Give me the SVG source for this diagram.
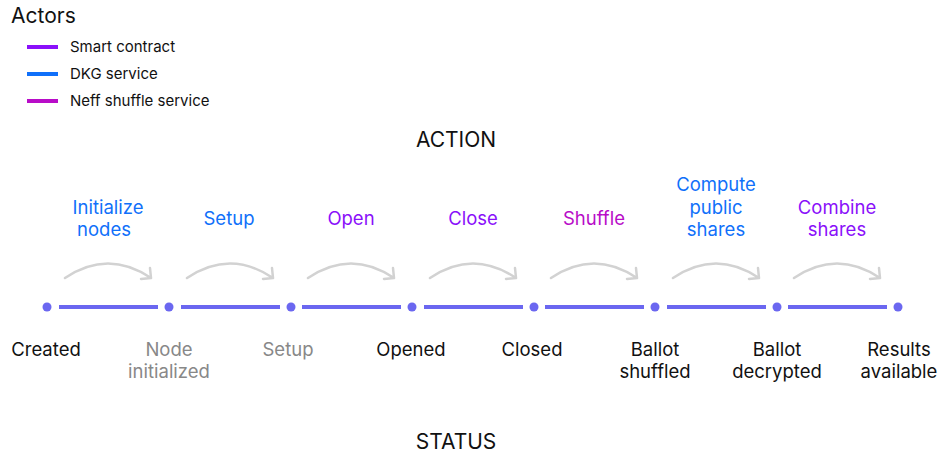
<svg xmlns="http://www.w3.org/2000/svg" width="940" height="454" viewBox="0 0 940 454">
<style>
text{font-family:Inter,"Noto Sans","Liberation Sans",sans-serif}
.h{font-size:21px;fill:#111}
.lg{font-size:15px;fill:#111}
.a{font-size:18.5px;text-anchor:middle}
.s{font-size:18.5px;text-anchor:middle;fill:#111}
.g{fill:#888}
.sc{fill:#8a10fa}
.dkg{fill:#1070fa}
.nf{fill:#b80cc8}
.seg{stroke:#6b67f0;stroke-width:4;fill:none}
.dot{fill:#6b67f0}
.arc{stroke:#d2d2d2;stroke-width:2.5;fill:none;stroke-linecap:round;stroke-linejoin:round}
</style>
<rect width="940" height="454" fill="#fff"/>
<g id="legend">
<text class="h" x="11" y="23">Actors</text>
<line x1="27" y1="47" x2="58" y2="47" stroke="#8a10fa" stroke-width="4"/>
<text class="lg" x="70" y="52">Smart contract</text>
<line x1="27" y1="74" x2="58" y2="74" stroke="#1070fa" stroke-width="4"/>
<text class="lg" x="70" y="79">DKG service</text>
<line x1="27" y1="101" x2="58" y2="101" stroke="#b80cc8" stroke-width="4"/>
<text class="lg" x="70" y="106">Neff shuffle service</text>
</g>
<g id="headings">
<text class="h" x="456" y="147" text-anchor="middle">ACTION</text>
<text class="h" x="456" y="449" text-anchor="middle">STATUS</text>
</g>
<g id="connectors">
<line class="seg" x1="59" y1="307" x2="158" y2="307"/>
<line class="seg" x1="181" y1="307" x2="280" y2="307"/>
<line class="seg" x1="302" y1="307" x2="401" y2="307"/>
<line class="seg" x1="424" y1="307" x2="523" y2="307"/>
<line class="seg" x1="545" y1="307" x2="644" y2="307"/>
<line class="seg" x1="667" y1="307" x2="766" y2="307"/>
<line class="seg" x1="788" y1="307" x2="887" y2="307"/>
<g class="arc">
<path d="M65 278 Q108 249 151 278 M141 279 L151 278 L150 268"/>
<path d="M187 278 Q230 249 273 278 M263 279 L273 278 L272 268"/>
<path d="M308 278 Q351 249 394 278 M384 279 L394 278 L393 268"/>
<path d="M430 278 Q473 249 516 278 M506 279 L516 278 L515 268"/>
<path d="M551 278 Q594 249 637 278 M627 279 L637 278 L636 268"/>
<path d="M673 278 Q716 249 759 278 M749 279 L759 278 L758 268"/>
<path d="M794 278 Q837 249 880 278 M870 279 L880 278 L879 268"/>
</g>
</g>
<g id="s1"><circle class="dot" cx="47" cy="307" r="4.5"/><text class="s" x="46" y="356">Created</text></g>
<g id="s2"><circle class="dot" cx="169" cy="307" r="4.5"/><text class="s g" x="169" y="356">Node</text><text class="s g" x="169" y="378">initialized</text></g>
<g id="s3"><circle class="dot" cx="291" cy="307" r="4.5"/><text class="s g" x="288" y="356">Setup</text></g>
<g id="s4"><circle class="dot" cx="412" cy="307" r="4.5"/><text class="s" x="411" y="356">Opened</text></g>
<g id="s5"><circle class="dot" cx="534" cy="307" r="4.5"/><text class="s" x="532" y="356">Closed</text></g>
<g id="s6"><circle class="dot" cx="655" cy="307" r="4.5"/><text class="s" x="655" y="356">Ballot</text><text class="s" x="655" y="378">shuffled</text></g>
<g id="s7"><circle class="dot" cx="777" cy="307" r="4.5"/><text class="s" x="777" y="356">Ballot</text><text class="s" x="777" y="378">decrypted</text></g>
<g id="s8"><circle class="dot" cx="898" cy="307" r="4.5"/><text class="s" x="899" y="356">Results</text><text class="s" x="899" y="378">available</text></g>
<g id="a1"><text class="a dkg" x="108" y="214">Initialize</text><text class="a dkg" x="104" y="236">nodes</text></g>
<g id="a2"><text class="a dkg" x="229" y="225">Setup</text></g>
<g id="a3"><text class="a sc" x="351" y="225">Open</text></g>
<g id="a4"><text class="a sc" x="473" y="225">Close</text></g>
<g id="a5"><text class="a nf" x="594" y="225">Shuffle</text></g>
<g id="a6"><text class="a dkg" x="716" y="191">Compute</text><text class="a dkg" x="716" y="214">public</text><text class="a dkg" x="716" y="236">shares</text></g>
<g id="a7"><text class="a sc" x="837" y="214">Combine</text><text class="a sc" x="837" y="236">shares</text></g>
</svg>
